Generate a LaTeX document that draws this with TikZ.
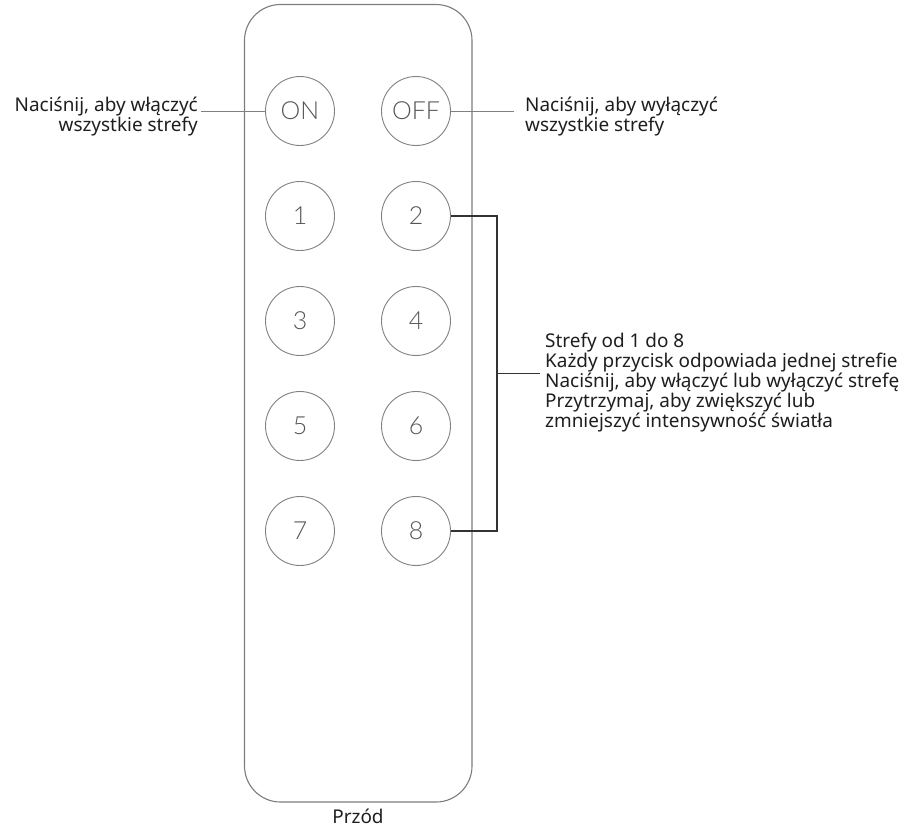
\documentclass[tikz,border=0pt]{standalone}
\usepackage{fontspec}
\setmainfont{Noto Sans}
\IfFontExistsTF{Lato Light}{\newfontfamily\thinfont{Lato Light}}{\newfontfamily\thinfont{Liberation Sans}}
\definecolor{outline}{HTML}{7C7C7C}
\definecolor{btnline}{HTML}{808080}
\definecolor{btntext}{HTML}{555555}
\definecolor{darkline}{HTML}{333333}
\definecolor{txt}{HTML}{1E1E1E}
\tikzset{
  remote/.style={draw=outline, line width=1.1bp, rounded corners=36bp},
  btn/.style={circle, draw=btnline, line width=0.9bp, minimum size=69bp, inner sep=0pt,
    text=btntext, font=\thinfont\fontsize{25}{25}\selectfont},
  lbl/.style={inner sep=0pt, text=txt, font=\fontsize{19}{20}\selectfont},
  biglbl/.style={inner sep=0pt, text=txt, font=\fontsize{19}{20}\selectfont},
  conn/.style={draw=btnline, line width=0.9bp},
  brk/.style={draw=darkline, line width=1.2bp},
}
\begin{document}
\begin{tikzpicture}[x=1bp,y=-1bp]
\useasboundingbox (0,0) rectangle (908,828);
\draw[remote] (244.5,4.5) rectangle (472,802);
\node[btn] (on)  at (300,111) {ON};
\node[btn] (off) at (416,111) {OFF};
\node[btn] (b1) at (300,216) {1};
\node[btn] (b2) at (416,216) {2};
\node[btn] (b3) at (300,321) {3};
\node[btn] (b4) at (416,321) {4};
\node[btn] (b5) at (300,426) {5};
\node[btn] (b6) at (416,426) {6};
\node[btn] (b7) at (300,531) {7};
\node[btn] (b8) at (416,531) {8};
\node[lbl, anchor=base east, align=right] (tON) at (198,131) {Naciśnij, aby włączyć\\wszystkie strefy};
\node[lbl, anchor=base west, align=left] (tOFF) at (525,131) {Naciśnij, aby wyłączyć\\wszystkie strefy};
\node[biglbl, anchor=base west, align=left] (tz) at (545,427) {Strefy od 1 do 8\\Każdy przycisk odpowiada jednej strefie\\Naciśnij, aby włączyć lub wyłączyć strefę\\Przytrzymaj, aby zwiększyć lub\\zmniejszyć intensywność światła};
\node[lbl, anchor=base] (front) at (358,823) {Przód};
\draw[conn] (on.west) -- ([xshift=3bp]tON.east |- on.west);
\draw[conn] (off.east) -- ([xshift=-11bp]tOFF.west |- off.east);
\coordinate (bt) at (497,216);
\coordinate (bb) at (497,531);
\coordinate (bm) at (497,373.5);
\draw[brk] (b2.east) -- (bt) -- (bb) -- (b8.east);
\draw[brk] (bm) -- ([xshift=-5bp]tz.west |- bm);
\end{tikzpicture}
\end{document}
